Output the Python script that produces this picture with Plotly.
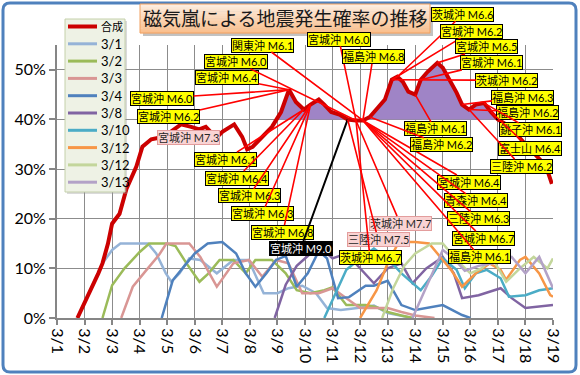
import numpy as np
import plotly.graph_objects as go

# ---------------- data ----------------
DAY_TICKS = list(range(1, 20))
DAY_LABELS = [f"3/{d}" for d in DAY_TICKS]
PCT_TICKS = [0, 10, 20, 30, 40, 50]
PCT_LABELS = [f"{v}%" for v in PCT_TICKS]

# composite probability (x = day of March, y = %)
COMP_X = [1.74, 2.0, 2.25, 2.5, 2.65, 2.85, 3.0, 3.27, 3.52, 3.88, 4.1, 4.42, 4.7, 5.0, 5.25, 5.5,
          5.87, 6.16, 6.4, 6.78, 7.0, 7.43, 7.72, 7.9, 8.1, 8.45, 8.8, 9.13, 9.42, 9.67, 9.96,
          10.2, 10.5, 10.7, 10.95, 11.25, 11.55, 11.85, 12.1, 12.35, 12.6, 12.9, 13.15, 13.35,
          13.55, 13.75, 14.0, 14.2, 14.45, 14.8, 15.0, 15.25, 15.5, 15.7, 15.95, 16.2, 16.5,
          16.75, 17.0, 17.3, 17.6, 18.0, 18.34, 18.6, 18.78, 18.96]
COMP_Y = [0, 3, 6, 9, 11, 15, 19, 21, 26, 30.5, 34.5, 36, 36.3, 37, 38, 39,
          38.5, 38, 38.5, 36.3, 37.5, 39, 36.5, 34, 34.5, 36.5, 38.5, 41.5, 46, 43.5, 42,
          43, 44, 43, 41.5, 41, 40, 39.8, 39.8, 40.5, 42, 44, 48, 48.6,
          47.6, 45.6, 45, 48, 49.6, 51.4, 50.4, 48, 45.4, 43, 42, 43, 43.3,
          41.5, 40, 39, 37.5, 35, 33, 31.5, 30, 27]

S01_X = [1.75, 2.25, 2.65, 3.0, 3.3, 3.8, 4.3, 4.6, 4.95, 5.15, 5.45, 5.8, 6.2, 6.8, 7.4, 7.95,
         8.5, 9.0, 9.4, 9.9, 10.4, 10.8, 11.3, 11.9, 12.5, 13.0, 13.9]
S01_Y = [0, 6, 11, 13.7, 15, 15, 15, 13, 9, 7.3, 9, 12, 11.7, 9, 11.7, 11.7,
         5, 5, 6, 6.5, 5, 2, 1.6, 2, 2.5, 1, 0]

S02_X = [2.65, 3.0, 3.45, 4.0, 4.35, 4.97, 5.3, 5.7, 6.17, 6.5, 6.9, 7.4, 7.85, 8.2, 8.8, 9.3,
         9.7, 10.2, 10.7, 11.0, 11.5, 12.2, 12.6, 13.0, 13.5, 13.9]
S02_Y = [0, 6.6, 10, 13.3, 15, 15, 14.5, 11, 7.3, 9, 11.7, 11.7, 9, 11.7, 11.7, 9,
         5.6, 5, 5.6, 6.2, 2.6, 2.6, 2.2, 1.2, 0.5, 0]

S03_X = [3.33, 3.75, 4.25, 4.7, 4.97, 5.8, 6.2, 6.8, 7.4, 7.97, 8.45, 8.95, 9.4, 9.9, 10.5,
         11.0, 11.5, 12.0, 12.6, 13.0, 13.5, 14.0, 14.7]
S03_Y = [0, 6.3, 9.7, 12.7, 15, 15, 12.3, 6.3, 11, 11.7, 8.3, 11.7, 11, 5, 5,
         6, 4, 2, 2, 2, 1.2, 0.5, 0]

S04_X = [4.8, 5.2, 5.7, 6.0, 6.47, 7.0, 7.5, 7.85, 8.2, 8.6, 8.95, 9.3, 9.7, 10.1, 10.5,
         10.8, 11.2, 11.6, 12.2, 12.5, 13.0, 13.5, 14.0, 15.0, 15.7, 16.0]
S04_Y = [0, 7.6, 11, 13, 15, 15.3, 13, 9, 6.3, 9, 11.7, 12.5, 6.3, 9, 13.5,
         12, 4, 4.2, 6.5, 6.5, 7.5, 2.6, 1.6, 2.6, 0.6, 0]

S08_X = [8.9, 9.3, 9.7, 10.2, 10.6, 11.0, 11.5, 12.0, 12.5, 13.0, 13.5, 13.9, 14.4, 15.0,
         15.4, 15.7, 16.3, 17.1, 17.5, 18.0, 19.0]
S08_Y = [0, 6.7, 10.5, 13, 14, 12, 13, 10, 7, 10, 11, 7, 10, 12.3,
         9, 4, 4.6, 6, 4, 2, 2.6]

S10_X = [10.7, 11.1, 11.5, 12.0, 12.5, 13.0, 13.5, 14.2, 14.6, 15.0, 15.5, 15.8, 16.2, 16.6,
         17.1, 17.4, 18.0, 18.5, 19.0]
S10_Y = [0, 5, 9.7, 12, 14, 12, 9, 5.6, 8.5, 12, 9.7, 6, 9, 9.7,
         8, 4.3, 4.6, 5.6, 6]

S12A_X = [12.0, 12.6, 13.0, 13.4, 14.0, 14.5, 15.0, 15.3, 15.7, 16.2, 16.7, 17.1, 17.3, 17.8,
          18.0, 18.5, 18.9, 19.0]
S12A_Y = [0, 5.6, 11, 15.3, 15.3, 15, 11.7, 9.7, 6.3, 9, 11, 9.7, 7.7, 11.7,
          12.3, 9, 4.6, 4.3]

S12B_X = [12.8, 13.2, 13.6, 14.0, 14.6, 15.0, 15.5, 16.0, 16.4, 16.8, 17.3, 17.8, 18.3, 18.8, 19.0]
S12B_Y = [0, 6, 10.5, 13, 15, 15, 11.7, 9, 10, 12, 7.3, 10, 12.3, 10, 12]

S13_X = [13.9, 14.3, 14.7, 15.0, 15.4, 15.8, 16.3, 16.8, 17.5, 18.0, 18.5, 19.0]
S13_Y = [0, 5, 10, 13.7, 12, 9.5, 10.5, 11, 12.3, 9, 12.3, 6]

SERIES_NAMES = ["3/1", "3/2", "3/3", "3/4", "3/8", "3/10", "3/12", "3/12", "3/13"]
SERIES_X = [S01_X, S02_X, S03_X, S04_X, S08_X, S10_X, S12A_X, S12B_X, S13_X]
SERIES_Y = [S01_Y, S02_Y, S03_Y, S04_Y, S08_Y, S10_Y, S12A_Y, S12B_Y, S13_Y]
SERIES_COLORS = ["#95b3d7", "#9bbb59", "#d99694", "#4f81bd", "#8064a2", "#4bacc6",
                 "#f79646", "#c3d69b", "#b3a2c7"]
COMP_NAME = "合成"
COMP_COLOR = "#cc0000"

FILL_LEVEL = 40

# earthquake callouts: text, label position (day, %), target day on composite line, style
EQ_TEXT = ["宮城沖 M6.0", "宮城沖 M6.2", "宮城沖 M6.4", "宮城沖 M6.0", "関東沖 M6.1", "宮城沖 M6.0",
           "福島沖 M6.8", "宮城沖 M6.1", "宮城沖 M6.4", "宮城沖 M6.3", "宮城沖 M6.3", "宮城沖 M6.8",
           "宮城沖 M9.0", "茨城沖 M7.7", "三陸沖 M7.5", "茨城沖 M6.7",
           "宮城沖 M6.4", "青森沖 M6.4", "三陸沖 M6.3", "宮城沖 M6.7", "福島沖 M6.1",
           "福島沖 M6.1", "福島沖 M6.2",
           "茨城沖 M6.6", "宮城沖 M6.2", "宮城沖 M6.5", "宮城沖 M6.1", "茨城沖 M6.2",
           "福島沖 M6.3", "福島沖 M6.2", "銚子沖 M6.1", "富士山 M6.4", "三陸沖 M6.2"]
EQ_LX = [4.81, 5.06, 7.17, 7.50, 8.44, 11.23, 12.47, 7.13, 7.53, 7.97, 8.44, 9.20,
         9.85, 13.45, 12.65, 12.36,
         15.95, 16.2, 16.31, 16.46, 16.35,
         14.72, 14.97,
         15.73, 16.06, 16.6, 16.75, 17.33, 17.91, 18.06, 18.2, 18.17, 17.84]
EQ_LY = [44.3, 40.5, 48.4, 51.6, 55.0, 56.2, 52.6, 32.0, 28.2, 24.6, 21.0, 17.3,
         14.1, 19.1, 15.9, 12.1,
         27.4, 23.6, 20.0, 16.1, 12.3,
         38.1, 34.9,
         61.2, 57.8, 54.6, 51.4, 47.9, 44.5, 41.5, 37.9, 34.2, 30.6]
EQ_TARGET = [9.42, 9.42, 9.42, 11.85, 12.1, 11.85, 12.1, 9.96, 9.96, 10.2, 10.2, 10.2,
             11.55, 11.85, 11.55, 11.85,
             12.1, 12.1, 12.1, 12.1, 12.1,
             14.0, 12.35,
             13.35, 13.15, 14.8, 14.2, 13.15, 15.7, 15.95, 16.5, 16.75, 15.95]
EQ_STYLE = ["y"] * 12 + ["b", "p", "p", "y"] + ["y"] * 17

M73_TEXT = "宮城沖 M7.3"
M73_POS = (5.79, 36.3)

TITLE = "磁気嵐による地震発生確率の推移"

# ---------------- figure ----------------
FONT = "Lato, 'Noto Sans CJK JP', sans-serif"
CJK = "'Noto Sans CJK JP', sans-serif"

fig = go.Figure()

# purple fill where the composite exceeds 40%
cx = np.array(COMP_X, float)
cy = np.array(COMP_Y, float)
fx, fy = [cx[0]], [max(cy[0], FILL_LEVEL)]
for i in range(1, len(cx)):
    a, b = cy[i - 1] - FILL_LEVEL, cy[i] - FILL_LEVEL
    if a * b < 0:
        t = a / (a - b)
        fx.append(cx[i - 1] + t * (cx[i] - cx[i - 1]))
        fy.append(FILL_LEVEL)
    fx.append(cx[i])
    fy.append(max(cy[i], FILL_LEVEL))
fig.add_trace(go.Scatter(x=fx, y=[FILL_LEVEL] * len(fx), mode="lines",
                         line=dict(width=0), showlegend=False, hoverinfo="skip"))
fig.add_trace(go.Scatter(x=fx, y=fy, mode="lines", line=dict(width=0),
                         fill="tonexty", fillcolor="#9f84c6",
                         showlegend=False, hoverinfo="skip"))

for nm, xs, ys, col in zip(SERIES_NAMES, SERIES_X, SERIES_Y, SERIES_COLORS):
    fig.add_trace(go.Scatter(x=xs, y=ys, mode="lines", name=nm,
                             line=dict(color=col, width=2.5), showlegend=False))

fig.add_trace(go.Scatter(x=COMP_X, y=COMP_Y, mode="lines", name=COMP_NAME,
                         line=dict(color=COMP_COLOR, width=4), showlegend=False))

annotations = []
for txt, lx, ly, tday, st in zip(EQ_TEXT, EQ_LX, EQ_LY, EQ_TARGET, EQ_STYLE):
    i = int(np.argmin(np.abs(cx - tday)))
    if st == "y":
        bg, bd, fc, ac = "#ffff00", "#000000", "#000000", "#ff0000"
    elif st == "p":
        bg, bd, fc, ac = "#f9d3d3", "#e39d9d", "#262626", "#ff0000"
    else:
        bg, bd, fc, ac = "#000000", "#000000", "#ffffff", "#000000"
    annotations.append(dict(
        x=cx[i], y=cy[i], xref="x", yref="y", ax=lx, ay=ly, axref="x", ayref="y",
        text=txt, showarrow=True, arrowhead=0, arrowwidth=2 if st == "b" else 1.6,
        arrowcolor=ac, standoff=0, bgcolor=bg, bordercolor=bd, borderwidth=1,
        borderpad=0, height=13, font=dict(family=FONT, size=11, color=fc)))

annotations.append(dict(x=M73_POS[0], y=M73_POS[1], xref="x", yref="y", text=M73_TEXT,
                        showarrow=False, bgcolor="#f9d3d3", bordercolor="#e39d9d",
                        borderwidth=1, borderpad=0, height=13,
                        font=dict(family=FONT, size=11, color="#262626")))


# helpers for pixel placement of decorations
def PX(px):
    return (px - 57) / 496.0


def PY(py):
    return (318 - py) / 273.0


shapes = []
# outer rounded border
x0, x1, y0, y1 = PX(3), PX(576), PY(372), PY(3)
rx, ry = 7 / 496.0, 7 / 273.0
path = (f"M {x0 + rx},{y1} L {x1 - rx},{y1} Q {x1},{y1} {x1},{y1 - ry} "
        f"L {x1},{y0 + ry} Q {x1},{y0} {x1 - rx},{y0} L {x0 + rx},{y0} "
        f"Q {x0},{y0} {x0},{y0 + ry} L {x0},{y1 - ry} Q {x0},{y1} {x0 + rx},{y1} Z")
shapes.append(dict(type="path", xref="paper", yref="paper", path=path,
                   line=dict(color="#4f81bd", width=3), layer="below"))

# legend box (drawn manually to match the compact row spacing)
LG_X0, LG_X1, LG_Y0, LG_Y1 = 65, 125, 19, 192
shapes.append(dict(type="rect", xref="paper", yref="paper", x0=PX(LG_X0 + 2), x1=PX(LG_X1 + 2),
                   y0=PY(LG_Y1 + 2), y1=PY(LG_Y0 + 2), fillcolor="rgba(150,150,150,0.35)",
                   line=dict(width=0)))
shapes.append(dict(type="rect", xref="paper", yref="paper", x0=PX(LG_X0), x1=PX(LG_X1),
                   y0=PY(LG_Y1), y1=PY(LG_Y0), fillcolor="#eef2e5",
                   line=dict(color="#c4d0aa", width=1)))
leg_names = [COMP_NAME] + SERIES_NAMES
leg_colors = [COMP_COLOR] + SERIES_COLORS
for k, (nm, col) in enumerate(zip(leg_names, leg_colors)):
    yy = 26.5 + 17.3 * k
    shapes.append(dict(type="line", xref="paper", yref="paper", x0=PX(68), x1=PX(97),
                       y0=PY(yy), y1=PY(yy), line=dict(color=col, width=4 if k == 0 else 3)))
    annotations.append(dict(x=PX(98.5), y=PY(yy), xref="paper", yref="paper", text=nm,
                            showarrow=False, xanchor="left", yanchor="middle",
                            font=dict(family=FONT, size=13 if k else 11, color="#000000")))

# title box: shadow + gradient strips + border
tx0, tx1, ty0, ty1 = 140, 430, 4, 33
shapes.append(dict(type="rect", xref="paper", yref="paper", x0=PX(tx0 + 3), x1=PX(tx1 + 3),
                   y0=PY(ty1 + 3), y1=PY(ty0 + 3), fillcolor="rgba(120,120,120,0.45)",
                   line=dict(width=0)))
top_c = np.array([253, 236, 222])
bot_c = np.array([250, 192, 143])
n = 12
for s in range(n):
    c = top_c + (bot_c - top_c) * s / (n - 1)
    a = ty0 + (ty1 - ty0) * s / n
    b = ty0 + (ty1 - ty0) * (s + 1) / n
    shapes.append(dict(type="rect", xref="paper", yref="paper", x0=PX(tx0), x1=PX(tx1),
                       y0=PY(b + 0.3), y1=PY(a),
                       fillcolor=f"rgb({int(c[0])},{int(c[1])},{int(c[2])})",
                       line=dict(width=0)))
shapes.append(dict(type="rect", xref="paper", yref="paper", x0=PX(tx0), x1=PX(tx1),
                   y0=PY(ty1), y1=PY(ty0), line=dict(color="#f0a060", width=1)))

annotations.append(dict(x=PX((tx0 + tx1) / 2), y=PY(17.5), xref="paper",
                        yref="paper", xanchor="center", yanchor="middle",
                        text=TITLE, showarrow=False,
                        font=dict(family=CJK, size=19, color="#1a1a1a")))

fig.update_layout(
    width=580, height=375,
    margin=dict(l=57, r=27, t=45, b=57),
    paper_bgcolor="white", plot_bgcolor="white",
    showlegend=False,
    annotations=annotations,
    shapes=shapes,
)
fig.update_xaxes(range=[1, 19], tickvals=DAY_TICKS, ticktext=DAY_LABELS, tickangle=90,
                 showgrid=True, gridcolor="#8c8c8c", gridwidth=1, zeroline=False,
                 showline=True, linecolor="#868686", linewidth=2,
                 ticks="outside", ticklen=5, tickcolor="#868686", tickwidth=2,
                 tickfont=dict(family=FONT, size=16, color="#000000"))
fig.update_yaxes(range=[0, 55], tickvals=PCT_TICKS, ticktext=PCT_LABELS,
                 showgrid=True, gridcolor="#8c8c8c", gridwidth=1, zeroline=False,
                 showline=True, linecolor="#868686", linewidth=2,
                 ticks="outside", ticklen=6, tickcolor="#868686", tickwidth=2,
                 tickfont=dict(family=FONT, size=16, color="#000000"))

fig.write_html("out.html")
